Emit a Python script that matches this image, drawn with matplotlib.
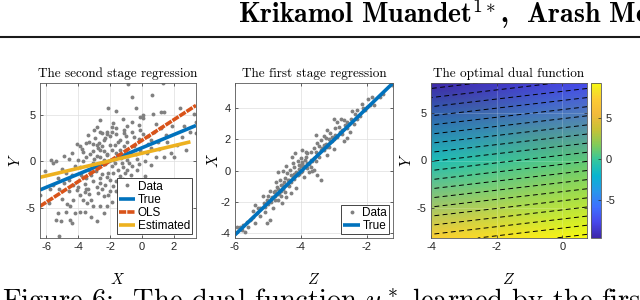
import matplotlib
matplotlib.use("Agg")
import matplotlib.pyplot as plt
import numpy as np
from matplotlib.colors import LinearSegmentedColormap
from matplotlib.lines import Line2D

plt.rcParams['mathtext.fontset'] = 'cm'
plt.rcParams['axes.unicode_minus'] = False
plt.rcParams['font.family'] = ['Liberation Sans', 'DejaVu Sans']

# ---- second stage regression: data cloud (X, Y)
x2 = [-0.9, 1.3, -0.6, 0.65, -2.1, -1.6, -0.4, 0.1, 0.7, 1.2, 1.4, 2.4, 3.3, 3.4,
      -0.6, -0.2, 0.1, -1.2, -2.6, -1.9, -2.5, -2.2, -2.3, -2.0, -1.6, -3.3, -3.1,
      -2.75, -2.5, -4.1, -3.7, -3.25, -2.8, -2.2, -5.7, -5.6, -5.4,
      -1.6, -1.35, -1.15, -0.95, -0.6, -0.1, 0.1, 0.4, 0.75, 1.2, 1.0, 1.6, 1.9,
      2.2, 2.65, 3.0, 3.4, 1.8, 2.0, 1.4, 0.55, 0.3, -0.1, -0.5, -0.7, -0.95, -0.6,
      -1.05, -1.25, -1.8, -1.9, -1.7, -1.35, -1.15, -0.95,
      -3.75, -3.5, -3.7, -3.05, -2.6, -2.4, -2.2, -2.6, -2.85, -2.4, -2.2, -1.9,
      -3.5, -2.95, -2.6, -3.9,
      -6.4, -5.85, -5.3, -5.4, -5.1, -5.2, -4.75, -4.4, -4.5, -4.2, -3.9,
      -2.85, -2.6, -2.2, -1.9, -1.6, -3.45, -3.2, -3.7, -3.9, -4.3, -4.0, -4.3,
      -4.55, -4.75, -4.4, -3.8, -3.5, -3.05, -2.85, -2.6, -2.3, -2.0, -1.8, -1.5,
      -1.4, -3.3, -1.6, -1.25, -2.0, -2.4, -2.75, -3.05, -3.6,
      -0.95, -4.9, -5.2, -4.6, -5.0, -4.2, -4.6, -5.0, -3.0, -2.7, -1.5, -1.0,
      0.4, 0.9, -0.3, -0.2, -3.4, -2.9, -2.5, -1.9, -2.1,
      -3.0, -2.7, -2.3, -1.7, -1.3, -0.8, -0.4, -0.3, -1.0, -1.5, -2.0, -2.4,
      -3.2, -3.6, -4.1, -3.3, -2.5, -1.8, -1.2, -0.7, -0.2, 0.2, 0.6, -0.5,
      -1.1, -1.8, -2.8, -3.4, -4.4, -4.0, -4.9, -5.3, -5.6, -4.7, -3.6, -2.1,
      -1.4, -1.0, -0.8, 0.2, 0.6, 1.1, 1.5, 2.5, 2.8, -0.1, 0.9, -3.9, -3.1,
      -2.2, -1.6, -0.9, -1.2, -2.6, -3.5, -4.5, -5.8, -6.1, -3.2, -2.4]
y2 = [8.3, 8.4, 6.9, 7.1, 5.7, 5.4, 5.7, 5.0, 5.1, 5.3, 5.3, 5.7, 5.1, 4.2,
      4.2, 3.9, 4.6, 4.5, 4.4, 3.7, 3.0, 3.2, 2.5, 2.7, 2.9, 2.1, 1.9,
      1.4, 1.6, 1.9, 1.0, 0.8, 0.6, 0.8, 0.15, -0.2, 0.1,
      3.6, 2.3, 3.0, 3.75, 3.2, 3.4, 2.9, 2.7, 3.2, 3.6, 2.1, 2.1, 3.75,
      1.8, 3.75, 3.2, 3.0, 0.9, 0.5, 0.5, 1.4, 0.9, 1.25, 1.6, 0.9, 0.2, -0.5,
      -1.25, -0.2, 0.2, 1.25, 1.8, 1.25, 1.6, 2.1,
      1.3, 0.5, 0.0, -0.2, 0.5, 0.2, 0.7, 1.25, 1.8, 2.3, 2.9, 3.2,
      2.0, 2.5, 3.2, 1.6,
      -3.6, -4.5, -5.5, -6.25, -6.4, -8.0, -5.4, -6.6, -6.25, -5.5, -5.4,
      -6.4, -4.8, -4.8, -4.3, -3.2, -4.5, -4.1, -4.1, -3.6, -4.1, -2.7, -2.5,
      -2.0, -1.25, -1.4, -1.4, -1.8, -2.1, -2.7, -2.3, -2.5, -2.0, -1.25, -0.9,
      -1.6, -0.9, -2.1, -2.7, -3.2, -3.75, -3.4, -4.8, -5.4,
      -0.9, -2.3, -3.0, -3.2, -4.0, -0.5, 0.3, -0.8, 3.4, 2.0, 0.6, 2.7,
      1.9, 0.5, 0.3, 2.4, -3.0, -1.0, -1.3, -0.5, -1.2,
      0.3, -0.5, -0.3, -0.2, 0.4, -0.2, 0.8, -0.9, 1.2, 2.1, 1.8, 1.1,
      -1.4, -2.4, -3.1, -3.5, -3.0, -2.6, -1.9, -1.5, -0.3, 0.1, 2.3, 2.6,
      3.4, 4.1, 3.7, 2.8, 0.9, 0.2, 0.6, -1.8, -2.5, -4.6, -3.3, -3.6,
      -4.0, -3.0, -2.1, -1.6, -0.4, 1.3, 2.8, 2.6, 1.2, 4.8, 4.0, -0.6, 1.1,
      -1.7, 0.9, 0.6, -0.6, -1.8, -2.9, -4.8, -3.0, -1.0, -5.9, -5.5]

# fitted lines (end points)
true2_x = [-6.4, 3.4]
true2_y = [-3.05, 3.85]
ols_x = [-6.4, 3.4]
ols_y = [-4.8, 6.0]
est_x = [-6.4, 3.05]
est_y = [-1.7, 2.1]

# ---- first stage regression: data cloud (Z, X)
z1 = [-1.22, -1.83, -1.98, -1.78, -2.13, -2.28, -2.49, -2.59, -2.69, -2.79, -2.9, -3.0,
      -2.95, -2.74, -2.9, -3.05, -3.2, -3.25, -3.4, -3.5, -3.3, -3.15, -3.6, -3.7,
      -3.8, -3.86, -3.96, -4.07, -3.7, -3.6, -3.5, -3.4, -4.17, -4.27, -4.22, -4.32,
      -4.42, -4.47, -4.63, -4.68, -4.57, -4.47, -4.73, -4.83, -4.88, -4.78, -4.57,
      -4.68, -5.03, -5.13, -5.24, -5.08, -5.34, -5.44, -5.54, -5.39, -4.93, -5.03,
      -5.75, -5.95, -5.8,
      -2.2, -2.4, -2.6, -2.8, -3.0, -3.1, -3.2, -3.3, -3.4, -3.5, -3.6, -3.65, -3.75,
      -3.8, -3.9, -3.95, -4.0, -4.05, -4.1, -4.15, -4.2, -4.25, -4.3, -4.35, -4.4,
      -4.5, -4.55, -4.6, -4.65, -4.7, -4.8, -4.9, -5.0, -3.45, -3.55, -3.85, -3.75,
      -3.9, -3.65, -4.0, -4.1, -3.3, -3.1, -2.85, -3.2, -3.0, -2.7, -2.5, -2.35,
      -2.05, -1.95, -1.6, -1.5, -2.6, -4.3, -4.15, -4.45, -4.85, -5.25, -5.6, -5.5,
      -5.7, -6.0, -4.45, -4.55, -4.75, -4.95, -5.15, -5.4, -3.95, -3.55, -2.45,
      -3.35, -3.15, -2.95, -2.75, -2.55, -2.3, -2.1, -1.9, -3.7, -3.8, -3.95, -4.05,
      -4.2, -4.3, -4.4, -4.5, -4.6, -4.7, -4.8, -5.0, -5.1, -5.3, -5.45, -5.65,
      -5.85, -3.55, -3.45, -3.25, -3.05, -2.65, -4.35, -4.6, -4.9, -4.0, -3.85, -4.25]
x1 = [5.46, 4.71, 4.08, 4.18, 4.29, 3.86, 3.33, 3.12, 3.23, 3.33, 3.12, 3.27,
      2.7, 2.59, 2.17, 2.17, 2.59, 2.06, 1.95, 1.74, 1.63, 1.53, 1.42, 1.21,
      1.1, 0.68, 0.47, 0.36, 0.25, 0.04, -0.28, -0.59, 1.1, 0.89, 0.25, 0.04,
      -0.17, -0.49, -0.59, -0.06, -0.91, -1.34, -1.02, -1.34, -1.66, -1.87, -2.08,
      -1.87, -1.87, -2.08, -2.4, -2.61, -2.72, -2.93, -3.14, -3.35, -3.14, -3.35,
      -3.46, -3.57, -3.78,
      3.5, 3.0, 2.7, 2.5, 2.0, 1.8, 1.5, 1.3, 1.3, 1.0, 0.8, 0.6, 0.4,
      0.5, 0.3, 0.0, -0.1, 0.1, -0.3, -0.1, -0.5, -0.4, -0.7, -0.6, -0.9,
      -1.0, -1.2, -1.3, -1.4, -1.5, -1.6, -1.8, -2.1, 1.6, 1.2, 0.9, -0.1,
      -0.4, 0.0, 0.8, 0.6, 2.2, 2.4, 2.8, 1.0, 1.4, 1.9, 2.5, 3.6,
      3.9, 4.6, 4.7, 4.9, 2.1, -1.4, -1.1, -1.7, -2.4, -2.9, -3.6, -3.1,
      -3.9, -3.9, 0.3, 0.0, -0.7, -1.3, -1.6, -2.2, 1.3, 2.3, 3.8,
      1.45, 2.0, 2.25, 2.35, 3.0, 3.3, 4.0, 4.2, 0.7, 0.2, 0.55, -0.2,
      -0.2, -0.3, -0.6, -0.7, -0.9, -1.2, -1.3, -1.6, -2.3, -2.4, -2.6, -3.3,
      -3.6, 0.6, 0.9, 1.7, 1.9, 2.9, -1.0, -1.6, -2.0, 0.3, 1.2, 0.5]

true1_z = [-6.0, -1.2]
true1_x = [-4.1, 5.6]

# ---- optimal dual function values on a coarse (Z, Y) grid
dual_z = [-4.0, 0.75]
dual_y = [-8.1, 0.0, 8.1]
dual_u = [[7.4, 9.4],
          [-1.1, 0.9],
          [-9.6, -7.6]]
dual_levels = list(range(-9, 10))
cbar_ticks = [-5, 0, 5]

parula = LinearSegmentedColormap.from_list('parula', [
    (0.00, (0.2422, 0.1504, 0.6603)), (0.10, (0.2803, 0.2782, 0.9221)),
    (0.20, (0.2440, 0.4358, 0.9988)), (0.30, (0.1540, 0.5902, 0.9218)),
    (0.40, (0.0297, 0.7082, 0.8163)), (0.50, (0.1938, 0.7758, 0.6251)),
    (0.60, (0.5044, 0.7993, 0.3480)), (0.70, (0.7800, 0.7600, 0.2100)),
    (0.80, (0.9500, 0.7300, 0.2300)), (0.90, (0.9900, 0.8000, 0.2000)),
    (0.95, (0.9600, 0.8900, 0.1500)), (1.00, (0.9763, 0.9831, 0.0538))])

blue = (0, 0.447, 0.741)
red = (0.85, 0.325, 0.098)
yellow = (0.929, 0.694, 0.125)


def style(ax):
    ax.tick_params(direction='in', length=2.5, width=0.5, labelsize=8,
                   colors='0.15', pad=3, top=True, right=True)
    for s in ax.spines.values():
        s.set_color('0.35')
        s.set_linewidth(0.6)


def title(ax, txt):
    ax.set_title(txt, fontsize=9.5, pad=4, family='cmr10')


def legend(ax):
    lg = ax.legend(loc='lower right', fontsize=8.5, handlelength=1.4, handletextpad=0.2,
                   borderpad=0.2, labelspacing=0.1, borderaxespad=0.3, numpoints=1,
                   fancybox=False, framealpha=1)
    lg.get_frame().set_edgecolor('0.15')
    lg.get_frame().set_linewidth(0.6)


fig = plt.figure(figsize=(6.4, 3.0), dpi=100)

# header + rule
fig.text(238 / 640, 1 - 14 / 300, r'Krikamol Muandet$^{1*}$,  Arash Mehrjou',
         fontsize=20, va='center', ha='left', family='cmb10')
fig.add_artist(Line2D([0, 1], [1 - 37 / 300] * 2, transform=fig.transFigure,
                      color='0.1', lw=1.5))
fig.text(2 / 640, -9 / 300,
         r'Figure 6:  The dual function $u^*$ learned by the first stage',
         fontsize=20.5, va='baseline', ha='left', family='cmr10')

# panel 1
ax1 = fig.add_axes([40 / 640, 62 / 300, 156 / 640, 155 / 300])
style(ax1)
ax1.grid(True, color='0.87', lw=0.5)
ax1.set_axisbelow(True)
ax1.plot(x2, y2, 'o', color='0.5', ms=2.8, mew=0, label='Data')
ax1.plot(true2_x, true2_y, color=blue, lw=2.6, label='True', solid_capstyle='butt')
ax1.plot(ols_x, ols_y, color=red, lw=2.6, ls=(0, (2, 0.3)), label='OLS')
ax1.plot(est_x, est_y, color=yellow, lw=2.6, label='Estimated', solid_capstyle='butt')
ax1.set_xlim(-6.4, 3.4)
ax1.set_ylim(-8.2, 8.4)
ax1.set_xticks([-6, -4, -2, 0, 2])
ax1.set_yticks([-5, 0, 5])
ax1.set_xlabel(r'$X$', fontsize=11, labelpad=14)
ax1.set_ylabel(r'$Y$', fontsize=11, labelpad=2)
title(ax1, 'The second stage regression')
legend(ax1)

# panel 2
ax2 = fig.add_axes([235 / 640, 62 / 300, 158 / 640, 155 / 300])
style(ax2)
ax2.grid(True, color='0.87', lw=0.5)
ax2.set_axisbelow(True)
ax2.plot(z1, x1, 'o', color='0.5', ms=2.8, mew=0, label='Data')
ax2.plot(true1_z, true1_x, color=blue, lw=2.6, label='True', solid_capstyle='butt')
ax2.set_xlim(-6.0, -1.2)
ax2.set_ylim(-4.3, 5.6)
ax2.set_xticks([-6, -4, -2])
ax2.set_yticks([-4, -2, 0, 2, 4])
ax2.set_xlabel(r'$Z$', fontsize=11, labelpad=14)
ax2.set_ylabel(r'$X$', fontsize=11, labelpad=0)
title(ax2, 'The first stage regression')
legend(ax2)

# panel 3
ax3 = fig.add_axes([431 / 640, 62 / 300, 156 / 640, 155 / 300])
style(ax3)
mesh = ax3.pcolormesh(dual_z, dual_y, dual_u, shading='gouraud', cmap=parula,
                      vmin=-9.6, vmax=9.3)
ax3.contour(dual_z, dual_y, dual_u, levels=dual_levels, colors='k',
            linewidths=0.7, linestyles=[(0, (5, 3.5))])
ax3.grid(True, color='w', alpha=0.25, lw=0.5)
ax3.set_xlim(-4, 0.75)
ax3.set_ylim(-8.1, 8.1)
ax3.set_xticks([-4, -2, 0])
ax3.set_yticks([-5, 0, 5])
ax3.set_xlabel(r'$Z$', fontsize=11, labelpad=14)
ax3.set_ylabel(r'$Y$', fontsize=11, labelpad=2)
title(ax3, 'The optimal dual function')

cax = fig.add_axes([591 / 640, 62 / 300, 10 / 640, 155 / 300])
cb = fig.colorbar(mesh, cax=cax, ticks=cbar_ticks)
cb.outline.set_edgecolor('0.35')
cb.outline.set_linewidth(0.6)
cax.tick_params(direction='in', length=2.5, width=0.5, labelsize=8, colors='0.15', pad=3)

fig.savefig('out.png', dpi=100)
